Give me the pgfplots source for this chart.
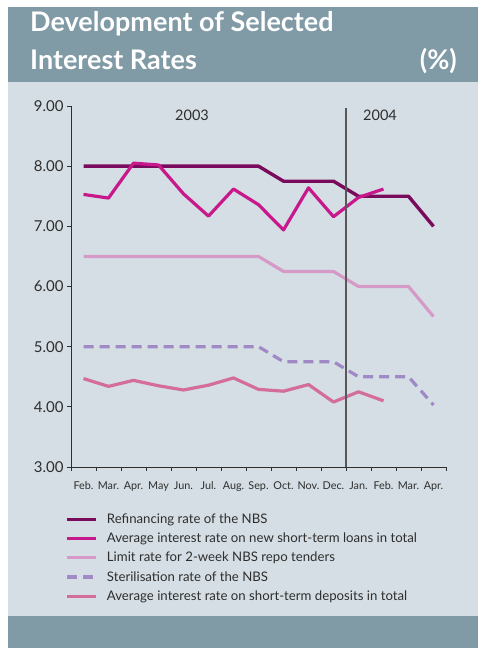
\documentclass[border=0pt]{standalone}
\usepackage{pgfplots}
\pgfplotsset{compat=1.18}
\usepackage{fontspec}
\setmainfont{Lato}
\definecolor{hdr}{HTML}{809AA6}
\definecolor{panel}{HTML}{D5DEE4}
\definecolor{refi}{HTML}{7A0B5C}
\definecolor{loans}{HTML}{C8198C}
\definecolor{limitc}{HTML}{D69AC8}
\definecolor{steril}{HTML}{9F8AC6}
\definecolor{depo}{HTML}{D46C9C}
\definecolor{txt}{HTML}{2E2E2E}
\begin{document}
\begin{tikzpicture}
\fill[white] (0,0) rectangle (478bp,648bp);
\fill[hdr] (8bp,566bp) rectangle (478bp,641bp);
\fill[panel] (8bp,32bp) rectangle (478bp,566bp);
\fill[hdr] (8bp,0bp) rectangle (478bp,32bp);
\node[anchor=base west, text=white, font=\fontsize{27bp}{30bp}\selectfont\bfseries, inner sep=0pt] at (30bp,616bp) {Development of Selected};
\node[anchor=base west, text=white, font=\fontsize{27bp}{30bp}\selectfont\bfseries, inner sep=0pt] at (30bp,578bp) {Interest Rates};
\node[anchor=base east, text=white, font=\fontsize{27bp}{30bp}\selectfont\bfseries, inner sep=0pt] at (457bp,578bp) {(\%)};
\begin{axis}[
  at={(71bp,181bp)}, anchor=south west,
  scale only axis, width=375bp, height=361bp,
  xmin=-0.5, xmax=14.5, ymin=3, ymax=9,
  axis lines=left, axis line style={-, draw=txt, line width=0.9bp},
  xtick={0,...,14},
  xticklabels={Feb.,Mar.,Apr.,May,Jun.,Jul.,Aug.,Sep.,Oct.,Nov.,Dec.,Jan.,Feb.,Mar.,Apr.},
  minor xtick={-0.5,0.5,...,14.5},
  major x tick style={draw=none},
  minor tick length=4bp, major tick length=4bp,
  tick align=outside,
  tick style={draw=txt, line width=0.9bp},
  ytick={3,4,...,9},
  yticklabel style={/pgf/number format/fixed, /pgf/number format/fixed zerofill, /pgf/number format/precision=2},
  /pgf/number format/assume math mode=true,
  x tick label style={font=\fontsize{10.8bp}{12bp}\selectfont, text=txt, yshift=-7.5bp},
  y tick label style={font=\fontsize{15bp}{17bp}\selectfont, text=txt},
  legend style={at={(-0.023,-0.118)}, anchor=north west, draw=none, fill=none,
    font=\fontsize{13.2bp}{15bp}\selectfont, text=txt, row sep=4bp},
  legend cell align=left,
  legend image code/.code={\draw[#1, line cap=butt] (0bp,0bp) -- (29bp,0bp); \path (36bp,0bp);},
  clip=false,
]
\addplot[refi, line width=3.4bp, line join=round] coordinates {
(0,8.0)(1,8.0)(2,8.0)(3,8.0)(4,8.0)(5,8.0)(6,8.0)(7,8.0)(8,7.75)(9,7.75)(10,7.75)(11,7.5)(12,7.5)(13,7.5)(14,7.0)};
\addlegendentry{Refinancing rate of the NBS}
\addplot[loans, line width=3.2bp, line join=round] coordinates {
(0,7.53)(1,7.47)(2,8.05)(3,8.02)(4,7.54)(5,7.17)(6,7.62)(7,7.36)(8,6.94)(9,7.64)(10,7.16)(11,7.48)(12,7.62)};
\addlegendentry{Average interest rate on new short-term loans in total}
\addplot[limitc, line width=3.2bp, line join=round] coordinates {
(0,6.5)(1,6.5)(2,6.5)(3,6.5)(4,6.5)(5,6.5)(6,6.5)(7,6.5)(8,6.25)(9,6.25)(10,6.25)(11,6.0)(12,6.0)(13,6.0)(14,5.5)};
\addlegendentry{Limit rate for 2-week NBS repo tenders}
\addplot[steril, line width=3.2bp, dash pattern=on 10bp off 6bp, line join=round] coordinates {
(0,5.0)(1,5.0)(2,5.0)(3,5.0)(4,5.0)(5,5.0)(6,5.0)(7,5.0)(8,4.75)(9,4.75)(10,4.75)(11,4.5)(12,4.5)(13,4.5)(14,4.03)};
\addlegendentry{Sterilisation rate of the NBS}
\addplot[depo, line width=3.2bp, line join=round] coordinates {
(0,4.47)(1,4.34)(2,4.44)(3,4.35)(4,4.28)(5,4.36)(6,4.48)(7,4.29)(8,4.26)(9,4.37)(10,4.08)(11,4.25)(12,4.10)};
\addlegendentry{Average interest rate on short-term deposits in total}
\draw[txt!80, line width=1.2bp] (axis cs:10.5,3) -- (axis cs:10.5,8.97);
\node[font=\fontsize{14.5bp}{16bp}\selectfont, text=txt] at (axis cs:4.34,8.85) {2003};
\node[font=\fontsize{14.5bp}{16bp}\selectfont, text=txt] at (axis cs:11.86,8.85) {2004};
\end{axis}
\end{tikzpicture}
\end{document}
